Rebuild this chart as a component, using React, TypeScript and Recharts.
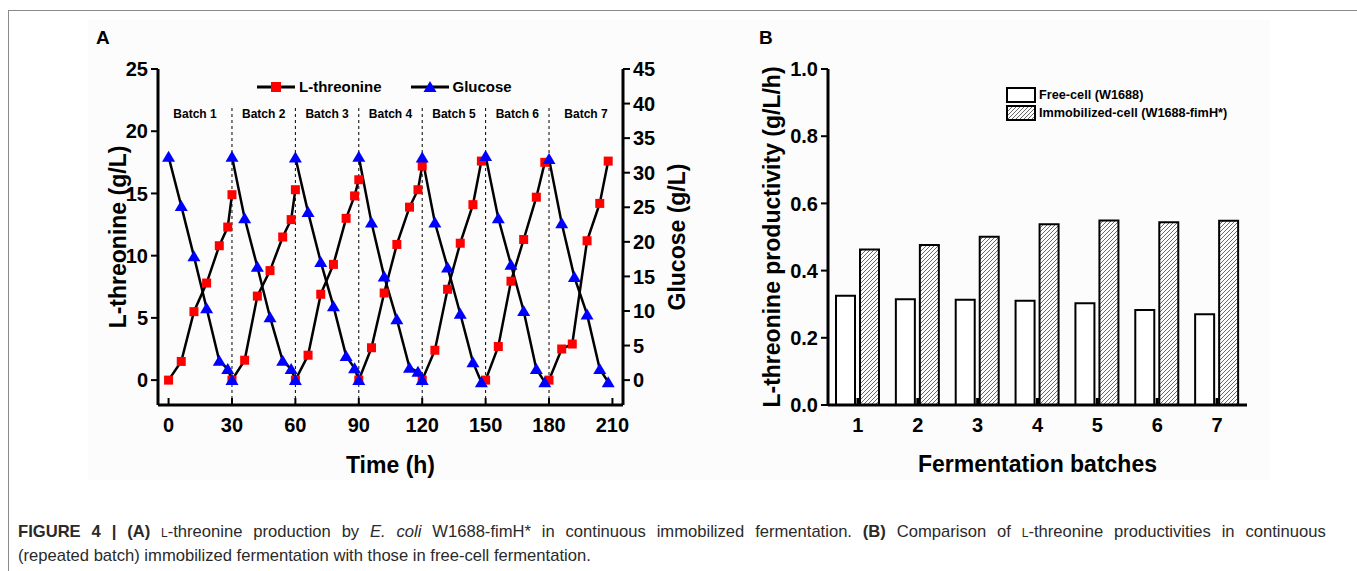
import React from "react";
import {
  LineChart, Line, XAxis, YAxis, ReferenceLine, ReferenceArea, Legend,
  BarChart, Bar,
} from "recharts";

const FONT = '"Liberation Sans", Arial, Helvetica, sans-serif';
const RED = "#ff0000";
const BLUE = "#0000ff";

// ---- panel A: repeated batch fermentation (times in h, per batch)
const THR_TIME = [
  [0, 6, 12, 18, 24, 28, 30],
  [30, 36, 42, 48, 54, 58, 60],
  [60, 66, 72, 78, 84, 88, 90],
  [90, 96, 102, 108, 114, 118, 120],
  [120, 126, 132, 138, 144, 148],
  [150, 156, 162, 168, 174, 178],
  [180, 186, 191, 198, 204, 208],
];
const THR_VALUE = [
  [0, 1.5, 5.5, 7.8, 10.8, 12.3, 14.9],
  [0, 1.6, 6.75, 8.8, 11.5, 12.9, 15.3],
  [0, 2.0, 6.9, 9.3, 13.0, 14.8, 16.1],
  [0, 2.6, 7.0, 10.9, 13.9, 15.3, 17.2],
  [0, 2.4, 7.3, 11.0, 14.1, 17.6],
  [0, 2.7, 7.95, 11.3, 14.7, 17.5],
  [0, 2.5, 2.9, 11.2, 14.2, 17.6],
];
const GLC_TIME = [
  [0, 6, 12, 18, 24, 28, 30],
  [30, 36, 42, 48, 54, 58, 60],
  [60, 66, 72, 78, 84, 88, 90],
  [90, 96, 102, 108, 114, 118, 120],
  [120, 126, 132, 138, 144, 148],
  [150, 156, 162, 168, 174, 178],
  [180, 186, 192, 198, 204, 208],
];
const GLC_VALUE = [
  [32.3, 25.2, 17.9, 10.4, 2.8, 1.6, 0],
  [32.3, 23.4, 16.4, 9.1, 2.8, 1.6, 0],
  [32.2, 24.3, 17.1, 10.7, 3.5, 1.7, 0],
  [32.3, 22.8, 15.0, 8.8, 1.8, 1.2, 0],
  [32.2, 22.8, 16.3, 9.6, 2.6, -0.3],
  [32.4, 23.4, 16.7, 10.0, 1.6, -0.3],
  [32.0, 22.7, 14.9, 9.5, 1.6, -0.3],
];
const SERIES_A = ["L-threonine", "Glucose"];
const BATCH_NAMES = ["Batch 1", "Batch 2", "Batch 3", "Batch 4", "Batch 5", "Batch 6", "Batch 7"];
const BATCH_EDGES = [30, 60, 90, 120, 150, 180];
const TIME_TICKS = [0, 30, 60, 90, 120, 150, 180, 210];
const THR_TICKS = [0, 5, 10, 15, 20, 25];
const GLC_TICKS = [0, 5, 10, 15, 20, 25, 30, 35, 40, 45];
const TIME_DOMAIN = [-5, 215];
const THR_DOMAIN = [-2, 25];
const GLC_DOMAIN = [-3.6, 45];

// ---- panel B: productivity per batch
const BATCHES = ["1", "2", "3", "4", "5", "6", "7"];
const FREE_CELL = [0.325, 0.315, 0.313, 0.31, 0.303, 0.283, 0.27];
const IMMOBILIZED = [0.463, 0.476, 0.501, 0.538, 0.549, 0.544, 0.548];
const SERIES_B = ["Free-cell (W1688)", "Immobilized-cell (W1688-fimH*)"];
const PROD_TICKS = [0, 0.2, 0.4, 0.6, 0.8, 1.0];

function toSeries(times: number[][], values: number[][], key: string) {
  const out: Record<string, number | null>[] = [];
  times.forEach((ts, b) => {
    ts.forEach((t, i) => out.push({ t, [key]: values[b][i] }));
    out.push({ t: ts[ts.length - 1], [key]: null }); // break between batches
  });
  return out;
}

const thrSeries = toSeries(THR_TIME, THR_VALUE, "thr");
const glcSeries = toSeries(GLC_TIME, GLC_VALUE, "glc");
const prodData = BATCHES.map((b, i) => ({ batch: b, free: FREE_CELL[i], imm: IMMOBILIZED[i] }));

const tickFont = { fontFamily: FONT, fontSize: 20, fontWeight: 700, fill: "#000" };
const titleStyle = { fontFamily: FONT, fontSize: 23, fontWeight: 700, fill: "#000", textAnchor: "middle" as const };

const Square = (props: any) => {
  const { cx, cy, index } = props;
  if (cx == null || cy == null) return <g key={`s${index}`} />;
  return <rect key={`s${index}`} x={cx - 4.5} y={cy - 4.5} width={9} height={9} fill={RED} />;
};

const Triangle = (props: any) => {
  const { cx, cy, index } = props;
  if (cx == null || cy == null) return <g key={`t${index}`} />;
  return <path key={`t${index}`} d={`M${cx},${cy - 6} L${cx + 6.5},${cy + 5} L${cx - 6.5},${cy + 5} Z`} fill={BLUE} />;
};

// bottom ticks drawn inward (Origin style)
const TICK_GAP = 12.5;
const InwardTick = (props: any) => {
  const { x, y, payload, w = 2 } = props;
  const axisY = y - TICK_GAP;
  return (
    <g>
      <line x1={x} x2={x} y1={axisY} y2={axisY - 7} stroke="#000" strokeWidth={w} />
      <text x={x} y={y} dy="0.71em" textAnchor="middle" {...tickFont}>{payload.value}</text>
    </g>
  );
};

const byOrder = (order: string[]) => (a: any, b: any) => order.indexOf(a.value) - order.indexOf(b.value);

const LegendA = ({ payload }: any) => (
  <div style={{ display: "flex", alignItems: "center", fontFamily: FONT, fontWeight: 700, fontSize: 15, color: "#000" }}>
    {[...(payload || [])].sort(byOrder(SERIES_A)).map((e: any, i: number) => (
      <div key={e.value} style={{ display: "flex", alignItems: "center", marginLeft: i ? 29 : 0 }}>
        <svg width={38} height={14}>
          <line x1={0} x2={38} y1={7} y2={7} stroke="#000" strokeWidth={3} />
          {e.value === SERIES_A[0]
            ? <rect x={14} y={2} width={10} height={10} fill={RED} />
            : <path d="M19,1 L25.5,12 L12.5,12 Z" fill={BLUE} />}
        </svg>
        <span style={{ marginLeft: 4 }}>{e.value}</span>
      </div>
    ))}
  </div>
);

const LegendB = ({ payload }: any) => (
  <div style={{ fontFamily: FONT, fontWeight: 700, fontSize: 12.7, color: "#000", lineHeight: "18px" }}>
    {[...(payload || [])].sort(byOrder(SERIES_B)).map((e: any) => (
      <div key={e.value} style={{ display: "flex", alignItems: "center" }}>
        <svg width={30} height={16}>
          <rect x={1} y={1} width={28} height={14} fill={e.value === SERIES_B[1] ? "url(#hatch)" : "#fff"} stroke="#000" strokeWidth={2} />
        </svg>
        <span style={{ marginLeft: 3 }}>{e.value}</span>
      </div>
    ))}
  </div>
);

function PanelA() {
  return (
    <LineChart width={700} height={490} margin={{ top: 69, right: 7, bottom: 10, left: 88 }}>
      <XAxis
        dataKey="t" type="number" domain={TIME_DOMAIN} ticks={TIME_TICKS} allowDataOverflow
        axisLine={{ stroke: "#000", strokeWidth: 3 }} tickLine={false} tickSize={0} tickMargin={TICK_GAP}
        tick={<InwardTick />} height={75}
        label={{ value: "Time (h)", position: "insideBottom", offset: 7, style: titleStyle }}
      />
      <XAxis xAxisId="top" orientation="top" type="number" domain={TIME_DOMAIN} height={0} tick={false} tickLine={false}
        axisLine={{ stroke: "#000", strokeWidth: 3 }} />
      <YAxis
        yAxisId="thr" domain={THR_DOMAIN} ticks={THR_TICKS} allowDataOverflow width={70}
        axisLine={{ stroke: "#000", strokeWidth: 3 }} tickLine={{ stroke: "#000", strokeWidth: 2 }} tickSize={7} tickMargin={3}
        tick={tickFont}
        label={{ value: "L-threonine (g/L)", angle: -90, position: "insideLeft", offset: 30, style: titleStyle }}
      />
      <YAxis
        yAxisId="glc" orientation="right" domain={GLC_DOMAIN} ticks={GLC_TICKS} allowDataOverflow width={70}
        axisLine={{ stroke: "#000", strokeWidth: 3 }} tickLine={{ stroke: "#000", strokeWidth: 2 }} tickSize={7} tickMargin={3}
        tick={tickFont}
        label={{ value: "Glucose (g/L)", angle: -90, position: "insideRight", offset: 16, style: titleStyle }}
      />
      {BATCH_EDGES.map((e) => (
        <ReferenceLine key={e} yAxisId="thr" segment={[{ x: e, y: THR_DOMAIN[0] }, { x: e, y: 21.9 }]}
          stroke="#000" strokeWidth={1} strokeDasharray="3 3" />
      ))}
      {BATCH_NAMES.map((name, i) => (
        <ReferenceArea key={name} yAxisId="thr"
          x1={i === 0 ? TIME_DOMAIN[0] : BATCH_EDGES[i - 1]}
          x2={i === BATCH_EDGES.length ? TIME_DOMAIN[1] : BATCH_EDGES[i]}
          y1={20.9} y2={21.9} fill="none" stroke="none"
          label={{ value: name, position: "center", fill: "#000", fontSize: 12, fontWeight: 700, fontFamily: FONT }} />
      ))}
      <Line yAxisId="thr" data={thrSeries} dataKey="thr" name={SERIES_A[0]} stroke="#000" strokeWidth={2.5}
        dot={(p: any) => <Square {...p} />} activeDot={false} isAnimationActive={false} connectNulls={false} />
      <Line yAxisId="glc" data={glcSeries} dataKey="glc" name={SERIES_A[1]} stroke="#000" strokeWidth={2.5}
        dot={(p: any) => <Triangle {...p} />} activeDot={false} isAnimationActive={false} connectNulls={false} />
      <Legend layout="horizontal" verticalAlign="middle" align="center" content={<LegendA />}
        wrapperStyle={{ position: "absolute", top: 78, left: 257, width: "auto", height: "auto" }} />
    </LineChart>
  );
}

function PanelB() {
  return (
    <BarChart width={600} height={490} data={prodData} margin={{ top: 69, right: 73, bottom: 10, left: 28 }}
      barSize={19} barGap={5}>
      <defs>
        <pattern id="hatch" patternUnits="userSpaceOnUse" width={4} height={4}>
          <path d="M-1,1 l2,-2 M0,4 l4,-4 M3,5 l2,-2" stroke="#444" strokeWidth={0.8} />
        </pattern>
      </defs>
      <XAxis
        dataKey="batch" axisLine={{ stroke: "#000", strokeWidth: 3 }} tickLine={false} tickSize={0} tickMargin={TICK_GAP}
        tick={<InwardTick w={3} />} height={75}
        label={{ value: "Fermentation batches", position: "insideBottom", offset: 8, style: titleStyle }}
      />
      <XAxis xAxisId="top" orientation="top" dataKey="batch" height={0} tick={false} tickLine={false}
        axisLine={{ stroke: "#000", strokeWidth: 3 }} />
      <YAxis
        domain={[0, 1]} ticks={PROD_TICKS} width={80} tickFormatter={(v: number) => v.toFixed(1)}
        axisLine={{ stroke: "#000", strokeWidth: 3 }} tickLine={{ stroke: "#000", strokeWidth: 2 }} tickSize={7} tickMargin={3}
        tick={tickFont}
        label={{ value: "L-threonine productivity (g/L/h)", angle: -90, position: "insideLeft", offset: 24, style: titleStyle }}
      />
      <YAxis yAxisId="r" orientation="right" width={0} domain={[0, 1]} tick={false} tickLine={false}
        axisLine={{ stroke: "#000", strokeWidth: 3 }} />
      <Bar dataKey="free" name={SERIES_B[0]} fill="#fff" stroke="#000" strokeWidth={2} isAnimationActive={false} />
      <Bar dataKey="imm" name={SERIES_B[1]} fill="url(#hatch)" stroke="#000" strokeWidth={2} isAnimationActive={false} />
      <Legend layout="horizontal" verticalAlign="middle" align="center" content={<LegendB />}
        wrapperStyle={{ position: "absolute", top: 86, left: 286, width: "auto", height: "auto" }} />
    </BarChart>
  );
}

const panelLetter = { position: "absolute" as const, fontFamily: FONT, fontWeight: 700, fontSize: 19, color: "#000" };
const smallCapL = <span style={{ fontVariant: "small-caps" }}>l</span>;

export default function App() {
  return (
    <div style={{ position: "absolute", left: 0, top: 0, width: 1357, height: 571, background: "#fff", overflow: "hidden" }}>
      <div style={{ position: "absolute", left: 8, top: 10, width: 1360, height: 600, border: "1px solid #8a8a8a" }} />
      <div style={{ position: "absolute", left: 88, top: 20, width: 1182, height: 460, background: "#fcfcfc" }} />
      <div style={{ ...panelLetter, left: 96, top: 27 }}>A</div>
      <div style={{ ...panelLetter, left: 759, top: 27 }}>B</div>
      <div style={{ position: "absolute", left: 0, top: 0 }}>
        <PanelA />
      </div>
      <div style={{ position: "absolute", left: 720, top: 0 }}>
        <PanelB />
      </div>
      <div style={{ position: "absolute", left: 18, top: 520, fontFamily: FONT, fontSize: 16.6, lineHeight: "23.5px", color: "#2a2a2a" }}>
        <div style={{ width: 1308, whiteSpace: "nowrap", display: "flex", justifyContent: "space-between" }}>
          <b>FIGURE</b><b>4</b><b>|</b><b>(A)</b>
          <span>{smallCapL}-threonine</span><span>production</span><span>by</span><i>E.</i><i>coli</i>
          <span>W1688-fimH*</span><span>in</span><span>continuous</span><span>immobilized</span><span>fermentation.</span>
          <b>(B)</b><span>Comparison</span><span>of</span><span>{smallCapL}-threonine</span><span>productivities</span>
          <span>in</span><span>continuous</span>
        </div>
        <div>(repeated batch) immobilized fermentation with those in free-cell fermentation.</div>
      </div>
    </div>
  );
}
